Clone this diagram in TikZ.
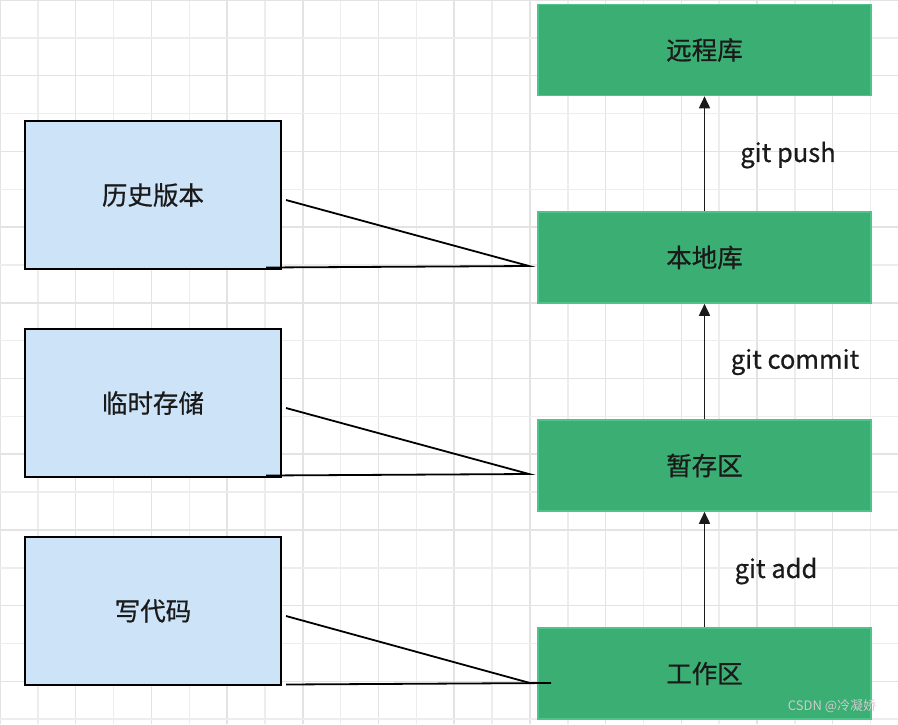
\documentclass[tikz,border=0pt]{standalone}
\usepackage{fontspec}
\setmainfont{Noto Sans CJK SC}[AutoFakeBold=0.6]
\usetikzlibrary{arrows.meta}
\definecolor{gitgreen}{HTML}{3BAE73}
\definecolor{gitgreenline}{HTML}{4DC48A}
\definecolor{noteblue}{HTML}{CDE3F7}
\definecolor{textdark}{HTML}{1A1A1A}
\begin{document}
\begin{tikzpicture}[x=1pt,y=-1pt]
    \tikzset{
        stage/.style={draw=gitgreenline, line width=1.6pt, fill=gitgreen, minimum width=333pt,
                      minimum height=91pt, inner sep=0pt, text=textdark, font=\fontsize{25.5}{28}\selectfont\bfseries},
        note/.style={draw=black, line width=1.8pt, fill=noteblue, minimum width=256pt,
                     minimum height=148pt, inner sep=0pt, text=textdark, font=\fontsize{25.5}{28}\selectfont\bfseries},
        cmd/.style={text=textdark, font=\fontsize{25.5}{28}\selectfont\bfseries},
        step arrow/.style={draw=textdark, line width=1.7pt, -{Triangle[length=12pt,width=11pt]}},
        pointer/.style={draw=black, line width=1.8pt}
    }
    \useasboundingbox (0,0) rectangle (898,724);
    % grid
    \foreach \i in {0,...,23} {
        \pgfmathsetmacro{\g}{37.85*\i}
        \ifodd\i
            \draw[black!7, line width=1.5pt] (\g,0) -- (\g,724);
        \else
            \draw[black!11, line width=1.5pt] (\g,0) -- (\g,724);
        \fi
    }
    \foreach \j in {0,...,19} {
        \pgfmathsetmacro{\h}{37.85*\j}
        \ifodd\j
            \draw[black!7, line width=1.5pt] (0,\h) -- (898,\h);
        \else
            \draw[black!11, line width=1.5pt] (0,\h) -- (898,\h);
        \fi
    }
    % stages
    \node[stage] (remote) at (704.5,50)    {远程库};
    \node[stage] (local)  at (704.5,257.5) {本地库};
    \node[stage] (index)  at (704.5,465.5) {暂存区};
    \node[stage] (work)   at (704.5,673.5) {工作区};
    \draw[step arrow] (work.north)  -- (index.south);
    \draw[step arrow] (index.north) -- (local.south);
    \draw[step arrow] (local.north) -- (remote.south);
    \node[cmd] (push)   at (788,155) {git push};
    \node[cmd] (commit) at (795,362) {git commit};
    \node[cmd] (add)    at (776,571) {git add};
    % notes
    \node[note] (history) at (153,195) {历史版本};
    \node[note] (temp)    at (153,403) {临时存储};
    \node[note] (code)    at (153,611) {写代码};
    \coordinate (tipA) at (529,266);
    \coordinate (tipB) at (529,474);
    \coordinate (tipC) at (530,683);
    \coordinate (endC) at (551,683);
    \draw[pointer] (286,200) -- (tipA) -- (266,267.5);
    \draw[pointer] (286,408) -- (tipB) -- (266,475.5);
    \draw[pointer] (286,616) -- (tipC);
    \draw[pointer] (286,684.5) -- (endC);
    \node[text=white!80!black, font=\fontsize{13}{15}\selectfont] (mark) at (832,706) {CSDN @冷凝娇};
\end{tikzpicture}
\end{document}
